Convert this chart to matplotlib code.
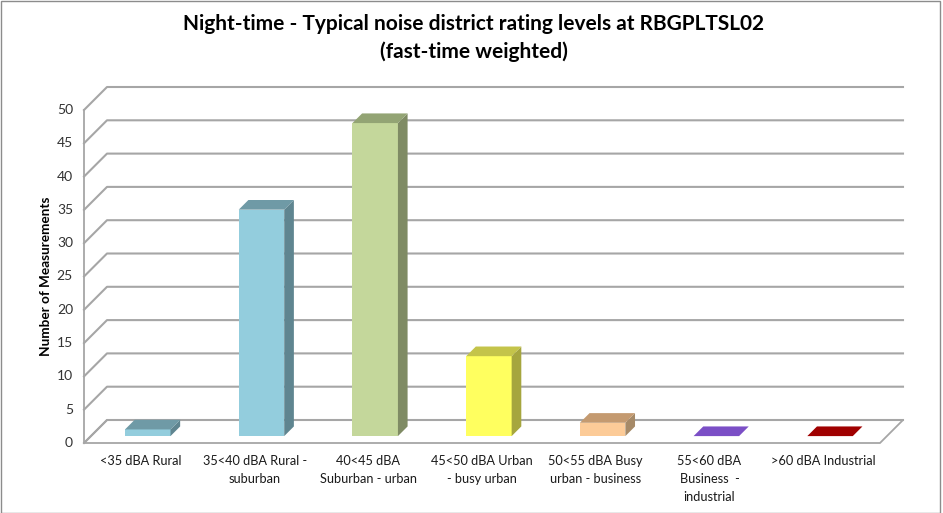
import matplotlib
matplotlib.use("Agg")
import matplotlib.pyplot as plt
from matplotlib.patches import Polygon, Rectangle

plt.rcParams['font.family'] = ['Lato', 'DejaVu Sans']

# ---- data ----
categories = ["<35 dBA Rural", "35<40 dBA Rural -\nsuburban", "40<45 dBA\nSuburban - urban",
              "45<50 dBA Urban\n- busy urban", "50<55 dBA Busy\nurban - business",
              "55<60 dBA\nBusiness  -\nindustrial", ">60 dBA Industrial"]
values = [1, 34, 47, 12, 2, 0, 0]
yticks = [0, 5, 10, 15, 20, 25, 30, 35, 40, 45, 50]
front_colors = ["#93CDDD", "#93CDDD", "#C4D79B", "#FFFF5F", "#FCCB98", "#7B4FC6", "#A00000"]
side_colors = ["#5F8590", "#5F8590", "#7F8B64", "#A6A63E", "#A68A68", "#5A3A92", "#700000"]
top_colors = ["#6F9AA6", "#6F9AA6", "#93A474", "#C4C44A", "#C49A70", "#7B4FC6", "#A00000"]
title = "Night-time - Typical noise district rating levels at RBGPLTSL02\n(fast-time weighted)"
ylabel = "Number of Measurements"

W, H = 943, 513
fig = plt.figure(figsize=(W / 100, H / 100), dpi=100)
ax = fig.add_axes([0, 0, 1, 1])
ax.axis('off')

# pixel geometry of the plot (front floor left/right, zero / 50 levels)
px_left, px_right = 84, 880
px_zero, px_top = 443, 110
ncat = len(categories)
ppc = (px_right - px_left) / ncat          # pixels per category
ppu = (px_zero - px_top) / yticks[-1]      # pixels per unit
xmin = -0.5 - px_left / ppc
ymin = -(H - px_zero) / ppu
ax.set_xlim(xmin, xmin + W / ppc)
ax.set_ylim(ymin, ymin + H / ppu)

DEPTH_PX = 23
DX = DEPTH_PX / ppc
DY = DEPTH_PX / ppu


def P(x, v, z):
    return (x + z * DX, v + z * DY)


grid_c = "#A6A6A6"
x0w, x1w = -0.5, ncat - 0.5
ymax = yticks[-1]

# floor
ax.add_patch(Polygon([P(x0w, 0, 0), P(x1w, 0, 0), P(x1w, 0, 1), P(x0w, 0, 1)],
                     closed=True, facecolor="white", edgecolor=grid_c, lw=1.3, zorder=1))
# left wall front edge
fx, fy = zip(P(x0w, 0, 0), P(x0w, ymax, 0))
ax.plot(fx, fy, color=grid_c, lw=1.3, zorder=1)
# gridlines
for v in yticks:
    a, b, c = P(x0w, v, 0), P(x0w, v, 1), P(x1w, v, 1)
    ax.plot([a[0], b[0], c[0]], [a[1], b[1], c[1]], color=grid_c, lw=1.5, zorder=1)

# bars
bw = 0.40
z0, z1 = 0.30, 0.72
for i, v in enumerate(values):
    xa, xb = i - bw / 2, i + bw / 2
    if v > 0:
        ax.add_patch(Polygon([P(xa, 0, z0), P(xb, 0, z0), P(xb, v, z0), P(xa, v, z0)],
                             closed=True, facecolor=front_colors[i], edgecolor='none', zorder=3))
        ax.add_patch(Polygon([P(xb, 0, z0), P(xb, 0, z1), P(xb, v, z1), P(xb, v, z0)],
                             closed=True, facecolor=side_colors[i], edgecolor='none', zorder=3))
    ax.add_patch(Polygon([P(xa, v, z0), P(xb, v, z0), P(xb, v, z1), P(xa, v, z1)],
                         closed=True, facecolor=top_colors[i], edgecolor='none', zorder=3))

# y tick labels
for v in yticks:
    ax.annotate(str(v), xy=(x0w, v), xytext=(-11, 0), textcoords='offset pixels',
                ha='right', va='center', fontsize=10, color="#333333")

# category labels
for i, lab in enumerate(categories):
    ax.annotate(lab, xy=(i, 0), xytext=(0, -12), textcoords='offset pixels',
                ha='center', va='top', fontsize=9.2, color="#1A1A1A", linespacing=1.6)

fig.text(46 / W, 1 - 276 / H, ylabel, rotation=90, ha='center', va='center',
         fontsize=9.8, fontweight='bold', color="#000000")
fig.text(474 / W, 1 - 38 / H, title, ha='center', va='center', fontsize=15,
         fontweight='bold', color="#000000", linespacing=1.45)

# outer border
fig.add_artist(Rectangle((0.5 / W, 0.5 / H), 1 - 3.5 / W, 1 - 1.5 / H, transform=fig.transFigure,
                         fill=False, edgecolor="#8C8C8C", lw=1.0))

fig.savefig("out.png", dpi=100)
